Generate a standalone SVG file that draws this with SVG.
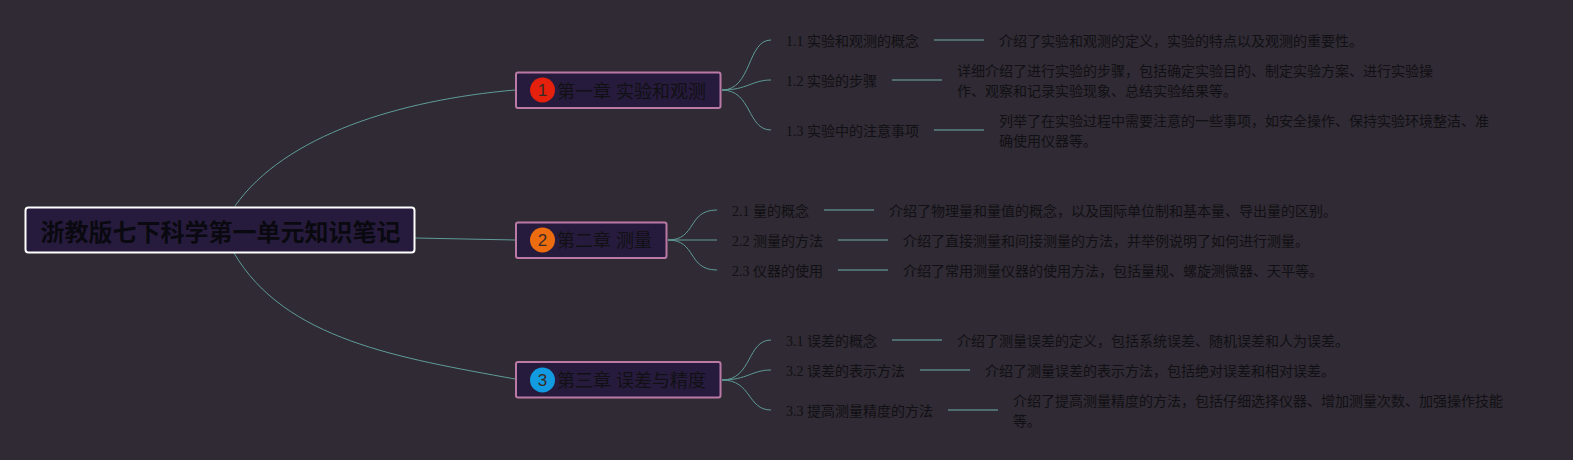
<svg xmlns="http://www.w3.org/2000/svg" width="1573" height="460" viewBox="0 0 1573 460">
<style>
text{fill:#111014;font-family:"Liberation Serif","Noto Sans CJK SC",serif;font-size:14px}
.root{font-family:"Liberation Sans","Noto Sans CJK SC",sans-serif;font-size:24px;font-weight:700;text-anchor:middle;fill:#0a0910}
.ch{font-family:"Liberation Sans","Noto Sans CJK SC",sans-serif;font-size:18px}
.num{font-family:"Liberation Sans","Noto Sans CJK SC",sans-serif;font-size:17px;text-anchor:middle;fill:#3a2a24}
.box{fill:#271b3d;stroke:#bb79a5;stroke-width:2}
.rootbox{fill:#271b3d;stroke:#fff;stroke-width:2}
.c{fill:none;stroke:#5f9c98;stroke-width:1}
.s{fill:none;stroke:#4f6c6e;stroke-width:2}
</style>
<rect width="1573" height="460" fill="#2f2a33"/>
<g id="connectors">
<path class="c" d="M235 206C285 135 400 100 515 90"/>
<path class="c" d="M415 238L515 240"/>
<path class="c" d="M234 253C285 340 400 358 515 379"/>
<path class="c" d="M722 90C752 90 747 40 771 40"/>
<path class="c" d="M722 90C747 90 752 80 771 80"/>
<path class="c" d="M722 90C752 90 747 130 771 130"/>
<path class="c" d="M668 240C697 240 687 210 717 210"/>
<path class="c" d="M668 240L717 240"/>
<path class="c" d="M668 240C697 240 687 270 717 270"/>
<path class="c" d="M722 380C752 380 747 340 771 340"/>
<path class="c" d="M722 380C747 380 752 370 771 370"/>
<path class="c" d="M722 380C752 380 747 410 771 410"/>
<path class="s" d="M934 40H984M892 80H942M934 130H984M824 210H874M838 240H888M838 270H888M892 340H942M920 370H970M948 410H998"/>
</g>
<g id="root"><rect class="rootbox" x="25.500" y="207.500" width="389" height="45" rx="3"/><text class="root" x="220.500" y="240.500">浙教版七下科学第一单元知识笔记</text></g>
<g id="ch1"><rect class="box" x="516" y="72.500" width="204.500" height="35.500" rx="2"/><circle cx="542.500" cy="90" r="12.500" fill="#e5200c"/><text class="num" x="542.500" y="96">1</text><text class="ch" x="557" y="98">第一章 实验和观测</text></g>
<g id="ch2"><rect class="box" x="516" y="222.500" width="150.500" height="35.500" rx="2"/><circle cx="542.500" cy="240" r="12.500" fill="#ee6c10"/><text class="num" x="542.500" y="246">2</text><text class="ch" x="557" y="247">第二章 测量</text></g>
<g id="ch3"><rect class="box" x="516" y="362" width="204.500" height="35.500" rx="2"/><circle cx="542.500" cy="380" r="12.500" fill="#129be0"/><text class="num" x="542.500" y="386">3</text><text class="ch" x="557" y="387">第三章 误差与精度</text></g>
<g id="n11"><text x="786" y="46">1.1 实验和观测的概念</text></g>
<g id="d11"><text x="999" y="46">介绍了实验和观测的定义，实验的特点以及观测的重要性。</text></g>
<g id="n12"><text x="786" y="86">1.2 实验的步骤</text></g>
<g id="d12"><text x="957" y="76">详细介绍了进行实验的步骤，包括确定实验目的、制定实验方案、进行实验操</text><text x="957" y="96">作、观察和记录实验现象、总结实验结果等。</text></g>
<g id="n13"><text x="786" y="136">1.3 实验中的注意事项</text></g>
<g id="d13"><text x="999" y="126">列举了在实验过程中需要注意的一些事项，如安全操作、保持实验环境整洁、准</text><text x="999" y="146">确使用仪器等。</text></g>
<g id="n21"><text x="732" y="216">2.1 量的概念</text></g>
<g id="d21"><text x="889" y="216">介绍了物理量和量值的概念，以及国际单位制和基本量、导出量的区别。</text></g>
<g id="n22"><text x="732" y="246">2.2 测量的方法</text></g>
<g id="d22"><text x="903" y="246">介绍了直接测量和间接测量的方法，并举例说明了如何进行测量。</text></g>
<g id="n23"><text x="732" y="276">2.3 仪器的使用</text></g>
<g id="d23"><text x="903" y="276">介绍了常用测量仪器的使用方法，包括量规、螺旋测微器、天平等。</text></g>
<g id="n31"><text x="786" y="346">3.1 误差的概念</text></g>
<g id="d31"><text x="957" y="346">介绍了测量误差的定义，包括系统误差、随机误差和人为误差。</text></g>
<g id="n32"><text x="786" y="376">3.2 误差的表示方法</text></g>
<g id="d32"><text x="985" y="376">介绍了测量误差的表示方法，包括绝对误差和相对误差。</text></g>
<g id="n33"><text x="786" y="416">3.3 提高测量精度的方法</text></g>
<g id="d33"><text x="1013" y="406">介绍了提高测量精度的方法，包括仔细选择仪器、增加测量次数、加强操作技能</text><text x="1013" y="426">等。</text></g>
</svg>
